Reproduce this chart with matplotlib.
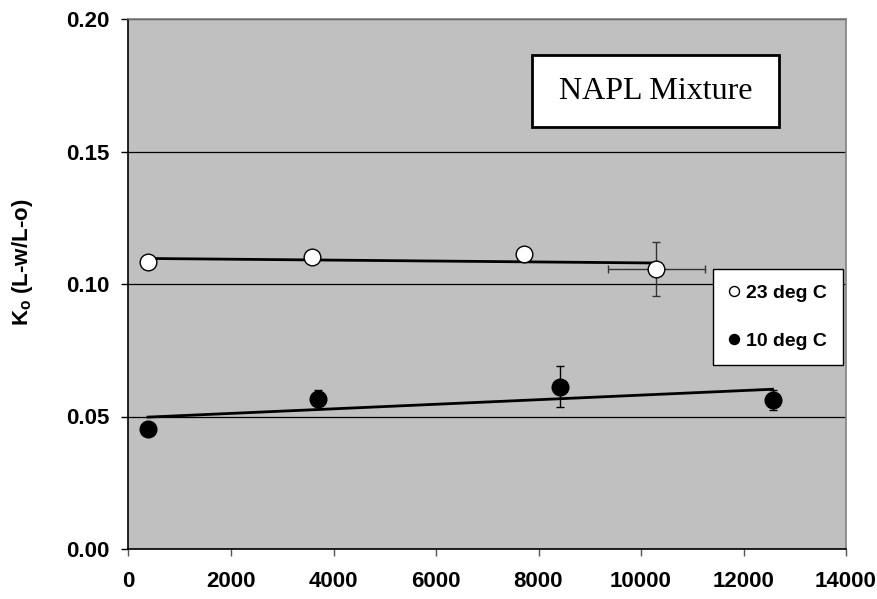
import numpy as np
import matplotlib.pyplot as plt
from matplotlib.patches import Rectangle

# data
x_23 = [390, 3580, 7717, 10302]
y_23 = [0.1082, 0.1101, 0.1112, 0.1055]
yerr_23 = [0, 0, 0, 0.0102]
xerr_23 = [0, 0, 0, 940]

x_10 = [380, 3707, 8420, 12566]
y_10 = [0.0454, 0.0565, 0.0613, 0.0562]
yerr_10 = [0.0, 0.0035, 0.0078, 0.0037]

plt.rcParams['font.family'] = ['Liberation Sans', 'DejaVu Sans']

fig = plt.figure(figsize=(8.78, 5.99), dpi=100)
ax = fig.add_axes([128.5 / 878, 50 / 599, 717.5 / 878, 530 / 599])
ax.set_facecolor('#C0C0C0')

ax.set_xlim(0, 14000)
ax.set_ylim(0, 0.20)
ax.set_xticks(np.arange(0, 14001, 2000))
ax.set_yticks([0.0, 0.05, 0.10, 0.15, 0.20])
ax.set_yticklabels(['0.00', '0.05', '0.10', '0.15', '0.20'])
ax.yaxis.grid(True, color='black', linewidth=0.9)
ax.set_axisbelow(True)
for lab in ax.get_xticklabels() + ax.get_yticklabels():
    lab.set_fontweight('bold')
    lab.set_fontsize(16)
ax.tick_params(direction='out', length=5, width=1, color='black')
ax.tick_params(axis='x', pad=11, color='#555555')
ax.tick_params(axis='y', pad=9)

for s in ['left', 'bottom']:
    ax.spines[s].set_color('black')
    ax.spines[s].set_linewidth(1.2)
for s in ['top', 'right']:
    ax.spines[s].set_color('#808080')
    ax.spines[s].set_linewidth(1.2)

# trend lines
p23 = np.polyfit(x_23, y_23, 1)
p10 = np.polyfit(x_10, y_10, 1)
ax.plot([x_23[0], x_23[-1]], np.polyval(p23, [x_23[0], x_23[-1]]), color='black', lw=2, zorder=3)
ax.plot([x_10[0], x_10[-1]], np.polyval(p10, [x_10[0], x_10[-1]]), color='black', lw=2, zorder=3)

ax.errorbar(x_23, y_23, yerr=yerr_23, xerr=xerr_23, fmt='none', ecolor='#333333',
            elinewidth=1, capsize=3, zorder=2)
ax.errorbar(x_10, y_10, yerr=yerr_10, fmt='none', ecolor='black',
            elinewidth=1, capsize=3, zorder=2)
h1, = ax.plot(x_23, y_23, 'o', ms=12, mfc='white', mec='black', mew=1, zorder=4)
h2, = ax.plot(x_10, y_10, 'o', ms=12, mfc='black', mec='black', zorder=4)

ax.set_ylabel('K$_\\mathregular{o}$ (L-w/L-o)', fontsize=16, fontweight='bold')
ax.yaxis.set_label_coords(-0.13, 0.54)

leg = ax.legend([h1, h2], ['23 deg C', '10 deg C'], loc='center',
                bbox_to_anchor=(0.905, 0.4377),
                frameon=True, fancybox=False, edgecolor='black', framealpha=1,
                prop={'weight': 'bold', 'size': 14}, markerscale=0.6,
                handlelength=0.6, handletextpad=0.3, labelspacing=1.55,
                borderpad=0.8, borderaxespad=0)
leg.get_frame().set_linewidth(1)

ax.add_patch(Rectangle((0.5624, 0.7962), 0.9066 - 0.5624, 0.932 - 0.7962,
                       transform=ax.transAxes, facecolor='white', edgecolor='black',
                       linewidth=2, zorder=5))
ax.text(0.7345, 0.864, 'NAPL Mixture', transform=ax.transAxes, ha='center', va='center',
        fontsize=23, family='Liberation Serif', zorder=6)

fig.savefig('out.png', dpi=100)
